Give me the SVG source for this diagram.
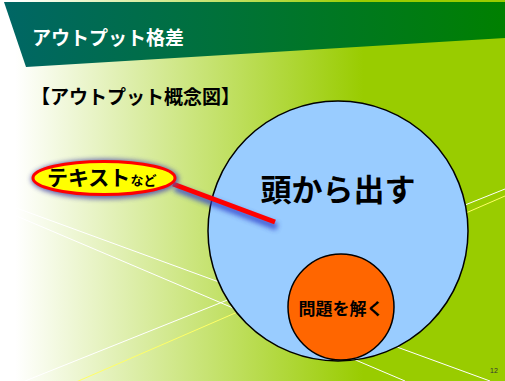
<svg xmlns="http://www.w3.org/2000/svg" width="505" height="381" viewBox="0 0 505 381">
<defs>
<linearGradient id="bg" x1="0" y1="0" x2="505" y2="0" gradientUnits="userSpaceOnUse">
<stop offset="0" stop-color="#ffffff"/>
<stop offset="0.03" stop-color="#ffffff"/>
<stop offset="0.72" stop-color="#99cc00"/>
<stop offset="1" stop-color="#99cc00"/>
</linearGradient>
<linearGradient id="hd" x1="0" y1="0" x2="505" y2="0" gradientUnits="userSpaceOnUse">
<stop offset="0" stop-color="#006666"/>
<stop offset="1" stop-color="#008000"/>
</linearGradient>
<filter id="glow" x="-30%" y="-60%" width="160%" height="220%">
<feGaussianBlur stdDeviation="2.5"/>
</filter>
<style>
.jp{font-family:"Noto Sans CJK JP","Noto Sans CJK SC",sans-serif;font-weight:bold}
.bgl{stroke:#ffffff;stroke-width:1;fill:none}
</style>
</defs>
<rect x="0" y="0" width="505" height="381" fill="url(#bg)"/>
<g id="bglines">
<line class="bgl" x1="0" y1="202" x2="490" y2="381"/>
<line class="bgl" x1="0" y1="209" x2="405" y2="381"/>
<line class="bgl" x1="0" y1="391" x2="505" y2="189"/>
<line x1="60" y1="389" x2="505" y2="196" stroke="#ffff66" stroke-width="1"/>
</g>
<g id="header">
<polygon points="4,2 505,2 505,38 26,67" fill="url(#hd)"/>
<text x="32" y="45" class="jp" font-size="19" fill="#ffffff">アウトプット格差</text>
</g>
<text x="31" y="104" class="jp" font-size="19" fill="#000000">【アウトプット概念図】</text>
<g id="head">
<circle cx="338" cy="231" r="130" fill="#99ccff" stroke="#000000" stroke-width="1.5"/>
<text x="338" y="201" class="jp" font-size="31" fill="#000000" text-anchor="middle">頭から出す</text>
</g>
<g id="solve">
<circle cx="341" cy="307" r="53" fill="#ff6600" stroke="#000000" stroke-width="1.5"/>
<text x="341" y="315" class="jp" font-size="17" fill="#000000" text-anchor="middle">問題を解く</text>
</g>
<g id="connectors">
<line x1="175" y1="188" x2="277" y2="227" stroke="#3344cc" stroke-width="7" opacity="0.8" filter="url(#glow)"/>
<line x1="173" y1="184" x2="275" y2="222" stroke="#ff0000" stroke-width="5"/>
</g>
<g id="text-node">
<ellipse cx="105" cy="179" rx="74" ry="20" fill="#5555aa" opacity="0.9" filter="url(#glow)"/>
<ellipse cx="104" cy="178" rx="71" ry="16.5" fill="#ffff00" stroke="#ff0000" stroke-width="3"/>
<text x="47" y="185" class="jp" font-size="21" fill="#000000">テキスト<tspan font-size="13">など</tspan></text>
</g>
<text x="490" y="373" font-family="Liberation Sans, sans-serif" font-size="7" fill="#333333">12</text>
</svg>
